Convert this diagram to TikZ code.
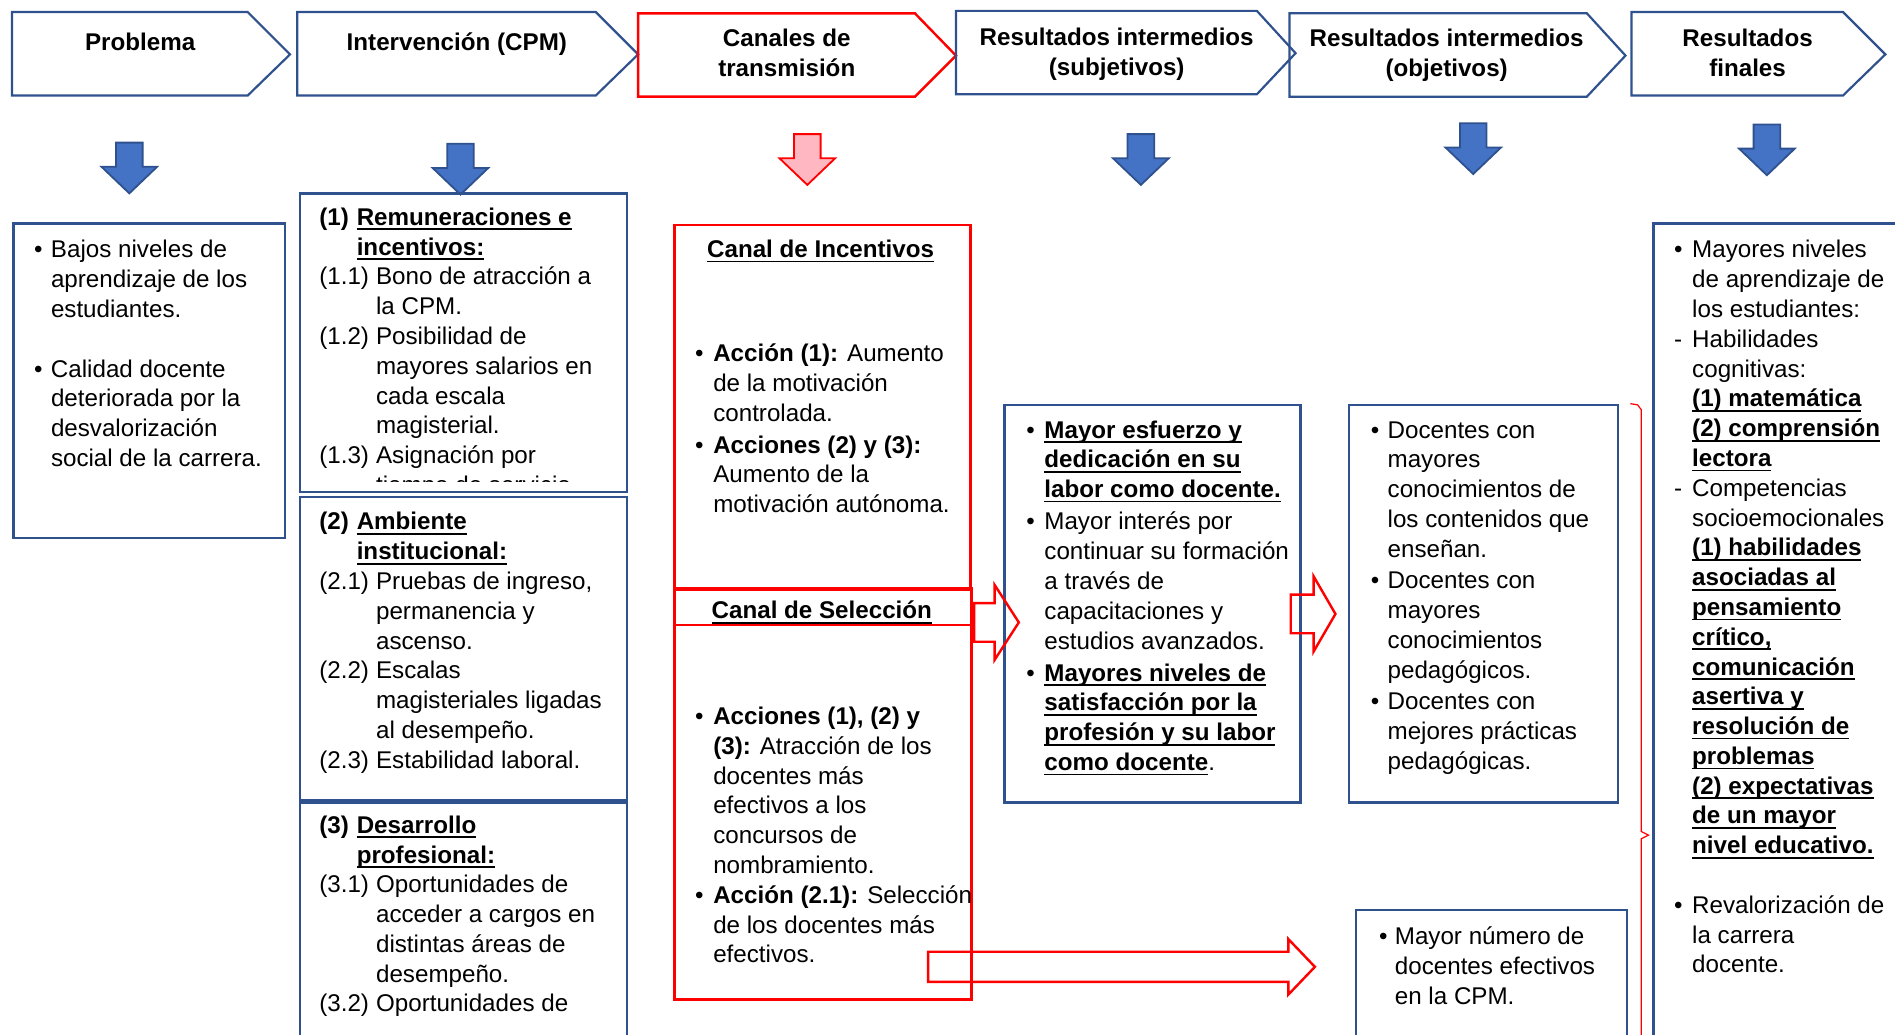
\documentclass[tikz,border=0pt]{standalone}
\usepackage{fontspec}
\setmainfont{Liberation Sans}
\usetikzlibrary{calc}

\definecolor{boxblue}{RGB}{47,82,143}
\definecolor{fillblue}{RGB}{68,114,196}
\definecolor{pinkfill}{RGB}{255,184,194}

\newcommand{\bodyfont}{\fontsize{20}{24.65}\selectfont}
\newcommand{\undr}[1]{{\setbox0\hbox{#1}\rlap{\rule[-4pt]{\wd0}{1.4pt}}\box0}}
\newcommand{\bunder}[1]{\textbf{\undr{#1}}}
\newcommand{\hdnum}[1]{\makebox[31pt][l]{\textbf{#1}}}
\newcommand{\subnum}[1]{\makebox[47pt][l]{#1}}
\newcommand{\hdind}{\hspace*{31pt}}
\newcommand{\subind}{\hspace*{47pt}}
\newcommand{\hdrtab}[1]{\begin{tabular}{@{}c@{}}#1\end{tabular}}

% block arrow pointing down, from a named top point
\newcommand{\dnarrow}[2]{%
  \draw[#1] let \p1=(#2) in
    (\x1-11pt,\y1) -- (\x1+11pt,\y1) -- (\x1+11pt,\y1-20pt) -- (\x1+23pt,\y1-20pt)
    -- (\x1,\y1-42pt) -- (\x1-23pt,\y1-20pt) -- (\x1-11pt,\y1-20pt) -- cycle;}
% hollow block arrow pointing right, between two named points
\newcommand{\rtarrow}[5]{%
  \draw[redarrow] let \p1=(#1), \p2=(#2) in
    (\x1,\y1+#3pt) -- (\x2-#5pt,\y1+#3pt) -- (\x2-#5pt,\y1+#4pt) -- (\x2,\y1)
    -- (\x2-#5pt,\y1-#4pt) -- (\x2-#5pt,\y1-#3pt) -- (\x1,\y1-#3pt) -- cycle;}

\begin{document}
\begin{tikzpicture}[x=1pt,y=-1pt,
    chev/.style={draw=boxblue,line width=1.8pt,line join=miter},
    redchev/.style={draw=red,line width=2pt,line join=miter},
    box/.style={draw=boxblue,line width=2pt,anchor=north west,inner sep=0pt},
    redbox/.style={draw=red,line width=2pt,anchor=north west,inner sep=0pt},
    txt/.style={anchor=north west,inner sep=0pt,font=\bodyfont},
    hdr/.style={anchor=north,inner sep=0pt,font=\bodyfont\bfseries},
    ttl/.style={anchor=base,inner sep=0pt,font=\bodyfont\bfseries},
    blkarrow/.style={draw=boxblue,fill=fillblue,line width=1.5pt},
    pinkarrow/.style={draw=red,fill=pinkfill,line width=1.5pt},
    redarrow/.style={draw=red,line width=2pt,line join=miter}]
  \useasboundingbox (0,0) rectangle (1568,856);

  % header chevrons
  \draw[chev] (10,10) -- (205,10) -- (240,45) -- (205,79) -- (10,79) -- cycle;
  \draw[chev] (246,10) -- (493,10) -- (528,45) -- (493,79) -- (246,79) -- cycle;
  \draw[redchev] (528,11) -- (757,11) -- (791,46) -- (757,80) -- (528,80) -- cycle;
  \draw[chev] (791,9) -- (1040,9) -- (1072,44) -- (1040,78) -- (791,78) -- cycle;
  \draw[chev] (1067,11) -- (1313,11) -- (1345,46) -- (1313,80) -- (1067,80) -- cycle;
  \draw[chev] (1350,10) -- (1525,10) -- (1560,45) -- (1525,79) -- (1350,79) -- cycle;

  \node[hdr] (hprob) at (116,24) {\hdrtab{Problema}};
  \node[hdr] (hint) at (378,24) {\hdrtab{Intervención (CPM)}};
  \node[hdr] (hcan) at (651,21) {\hdrtab{Canales de\\transmisión}};
  \node[hdr] (hsub) at (924,20) {\hdrtab{Resultados intermedios\\(subjetivos)}};
  \node[hdr] (hobj) at (1197,21) {\hdrtab{Resultados intermedios\\(objetivos)}};
  \node[hdr] (hfin) at (1446,21) {\hdrtab{Resultados\\finales}};

  % down arrows
  \coordinate (dprob) at (107,118);
  \coordinate (dint) at (381,119);
  \coordinate (dcan) at (668,111);
  \coordinate (dsub) at (944,111);
  \coordinate (dobj) at (1219,102);
  \coordinate (dfin) at (1462,103);
  \dnarrow{blkarrow}{dprob}
  \dnarrow{blkarrow}{dint}
  \dnarrow{pinkarrow}{dcan}
  \dnarrow{blkarrow}{dsub}
  \dnarrow{blkarrow}{dobj}
  \dnarrow{blkarrow}{dfin}

  % problema
  \node[box,minimum width=225,minimum height=260] (prob) at (10,184) {};
  \node[txt] (probtxt) at ([xshift=18pt,yshift=-12pt]prob.north west) {%
    \begin{tabular}{@{}p{14pt}@{}l@{}}
    •&Bajos niveles de\\
    &aprendizaje de los\\
    &estudiantes.\\
    &\\
    •&Calidad docente\\
    &deteriorada por la\\
    &desvalorización\\
    &social de la carrera.
    \end{tabular}};

  % intervencion
  \node[box,minimum width=271,minimum height=247] (int1) at (247,159) {};
  \node[box,minimum width=271,minimum height=251] (int2) at (247,410) {};
  \node[box,minimum width=271,minimum height=215] (int3) at (247,663) {};
  \begin{scope}
    \clip (248,160) rectangle (517,398);
    \node[txt] (int1txt) at ([xshift=17pt,yshift=-10pt]int1.north west) {%
      \begin{tabular}{@{}l@{}}
      \hdnum{(1)}\bunder{Remuneraciones e}\\
      \hdind\bunder{incentivos:}\\
      \subnum{(1.1)}Bono de atracción a\\
      \subind la CPM.\\
      \subnum{(1.2)}Posibilidad de\\
      \subind mayores salarios en\\
      \subind cada escala\\
      \subind magisterial.\\
      \subnum{(1.3)}Asignación por\\
      \subind tiempo de servicio.
      \end{tabular}};
  \end{scope}
  \node[txt] (int2txt) at ([xshift=17pt,yshift=-11pt]int2.north west) {%
    \begin{tabular}{@{}l@{}}
    \hdnum{(2)}\bunder{Ambiente}\\
    \hdind\bunder{institucional:}\\
    \subnum{(2.1)}Pruebas de ingreso,\\
    \subind permanencia y\\
    \subind ascenso.\\
    \subnum{(2.2)}Escalas\\
    \subind magisteriales ligadas\\
    \subind al desempeño.\\
    \subnum{(2.3)}Estabilidad laboral.
    \end{tabular}};
  \node[txt] (int3txt) at ([xshift=17pt,yshift=-9pt]int3.north west) {%
    \begin{tabular}{@{}l@{}}
    \hdnum{(3)}\bunder{Desarrollo}\\
    \hdind\bunder{profesional:}\\
    \subnum{(3.1)}Oportunidades de\\
    \subind acceder a cargos en\\
    \subind distintas áreas de\\
    \subind desempeño.\\
    \subnum{(3.2)}Oportunidades de
    \end{tabular}};

  % canales
  \node[redbox,minimum width=245,minimum height=302] (incent) at (557,185) {};
  \node[redbox,minimum width=246,minimum height=339] (selbox) at (557,487) {};
  \node[redbox,minimum width=246,minimum height=30] (selhead) at (557,486) {};
  \node[ttl] (incttl) at (679,213) {\undr{Canal de Incentivos}};
  \node[ttl] (selttl) at (680,512) {\undr{Canal de Selección}};
  \node[txt] (inctxt) at ([xshift=18pt,yshift=-97pt]incent.north west) {%
    \begin{tabular}{@{}p{15pt}@{}l@{}}
    •&\textbf{Acción (1):} Aumento\\
    &de la motivación\\
    &controlada.\\[1.5pt]
    •&\textbf{Acciones (2) y (3):}\\
    &Aumento de la\\
    &motivación autónoma.
    \end{tabular}};
  \node[txt] (seltxt) at ([xshift=18pt,yshift=-95pt]selbox.north west) {%
    \begin{tabular}{@{}p{15pt}@{}l@{}}
    •&\textbf{Acciones (1), (2) y}\\
    &\textbf{(3):} Atracción de los\\
    &docentes más\\
    &efectivos a los\\
    &concursos de\\
    &nombramiento.\\
    •&\textbf{Acción (2.1):} Selección\\
    &de los docentes más\\
    &efectivos.
    \end{tabular}};

  % resultados intermedios (subjetivos)
  \node[box,minimum width=245,minimum height=329] (subj) at (830,334) {};
  \node[txt] (subjtxt) at ([xshift=19pt,yshift=-11pt]subj.north west) {%
    \begin{tabular}{@{}p{15pt}@{}l@{}}
    •&\bunder{Mayor esfuerzo y}\\
    &\bunder{dedicación en su}\\
    &\bunder{labor como docente.}\\[2pt]
    •&Mayor interés por\\
    &continuar su formación\\
    &a través de\\
    &capacitaciones y\\
    &estudios avanzados.\\[2pt]
    •&\bunder{Mayores niveles de}\\
    &\bunder{satisfacción por la}\\
    &\bunder{profesión y su labor}\\
    &\bunder{como docente}.
    \end{tabular}};

  % resultados intermedios (objetivos)
  \node[box,minimum width=223,minimum height=329] (obj) at (1115,334) {};
  \node[txt] (objtxt) at ([xshift=19pt,yshift=-11pt]obj.north west) {%
    \begin{tabular}{@{}p{14pt}@{}l@{}}
    •&Docentes con\\
    &mayores\\
    &conocimientos de\\
    &los contenidos que\\
    &enseñan.\\[1.5pt]
    •&Docentes con\\
    &mayores\\
    &conocimientos\\
    &pedagógicos.\\[1.5pt]
    •&Docentes con\\
    &mejores prácticas\\
    &pedagógicas.
    \end{tabular}};
  \node[box,minimum width=224,minimum height=125] (objb) at (1121,752) {};
  \node[txt] (objbtxt) at ([xshift=20pt,yshift=-12pt]objb.north west) {%
    \begin{tabular}{@{}p{13pt}@{}l@{}}
    •&Mayor número de\\
    &docentes efectivos\\
    &en la CPM.
    \end{tabular}};

  % resultados finales
  \node[box,minimum width=220,minimum height=695] (fin) at (1367,184) {};
  \node[txt] (fintxt) at ([xshift=18pt,yshift=-12pt]fin.north west) {%
    \begin{tabular}{@{}p{15pt}@{}l@{}}
    •&Mayores niveles\\
    &de aprendizaje de\\
    &los estudiantes:\\
    -&Habilidades\\
    &cognitivas:\\
    &\bunder{(1) matemática}\\
    &\bunder{(2) comprensión}\\
    &\bunder{lectora}\\
    -&Competencias\\
    &socioemocionales\\
    &\bunder{(1) habilidades}\\
    &\bunder{asociadas al}\\
    &\bunder{pensamiento}\\
    &\bunder{crítico,}\\
    &\bunder{comunicación}\\
    &\bunder{asertiva y}\\
    &\bunder{resolución de}\\
    &\bunder{problemas}\\
    &\bunder{(2) expectativas}\\
    &\bunder{de un mayor}\\
    &\bunder{nivel educativo.}\\
    &\\
    •&Revalorización de\\
    &la carrera\\
    &docente.
    \end{tabular}};

  % red brace
  \draw[red,line width=1pt] (1349,334) -- (1355,335) -- (1358,339) -- (1358,688)
    -- (1364,691) -- (1358,694) -- (1358,870);

  % hollow red arrows
  \coordinate (a1s) at (806,515);
  \coordinate (a1e) at (843,515);
  \coordinate (a2s) at (1068,508);
  \coordinate (a2e) at (1105,508);
  \coordinate (a3s) at (768,800);
  \coordinate (a3e) at (1088,800);
  \rtarrow{a1s}{a1e}{16}{31}{20}
  \rtarrow{a2s}{a2e}{16}{31}{18}
  \rtarrow{a3s}{a3e}{12.5}{23}{22}
\end{tikzpicture}
\end{document}
